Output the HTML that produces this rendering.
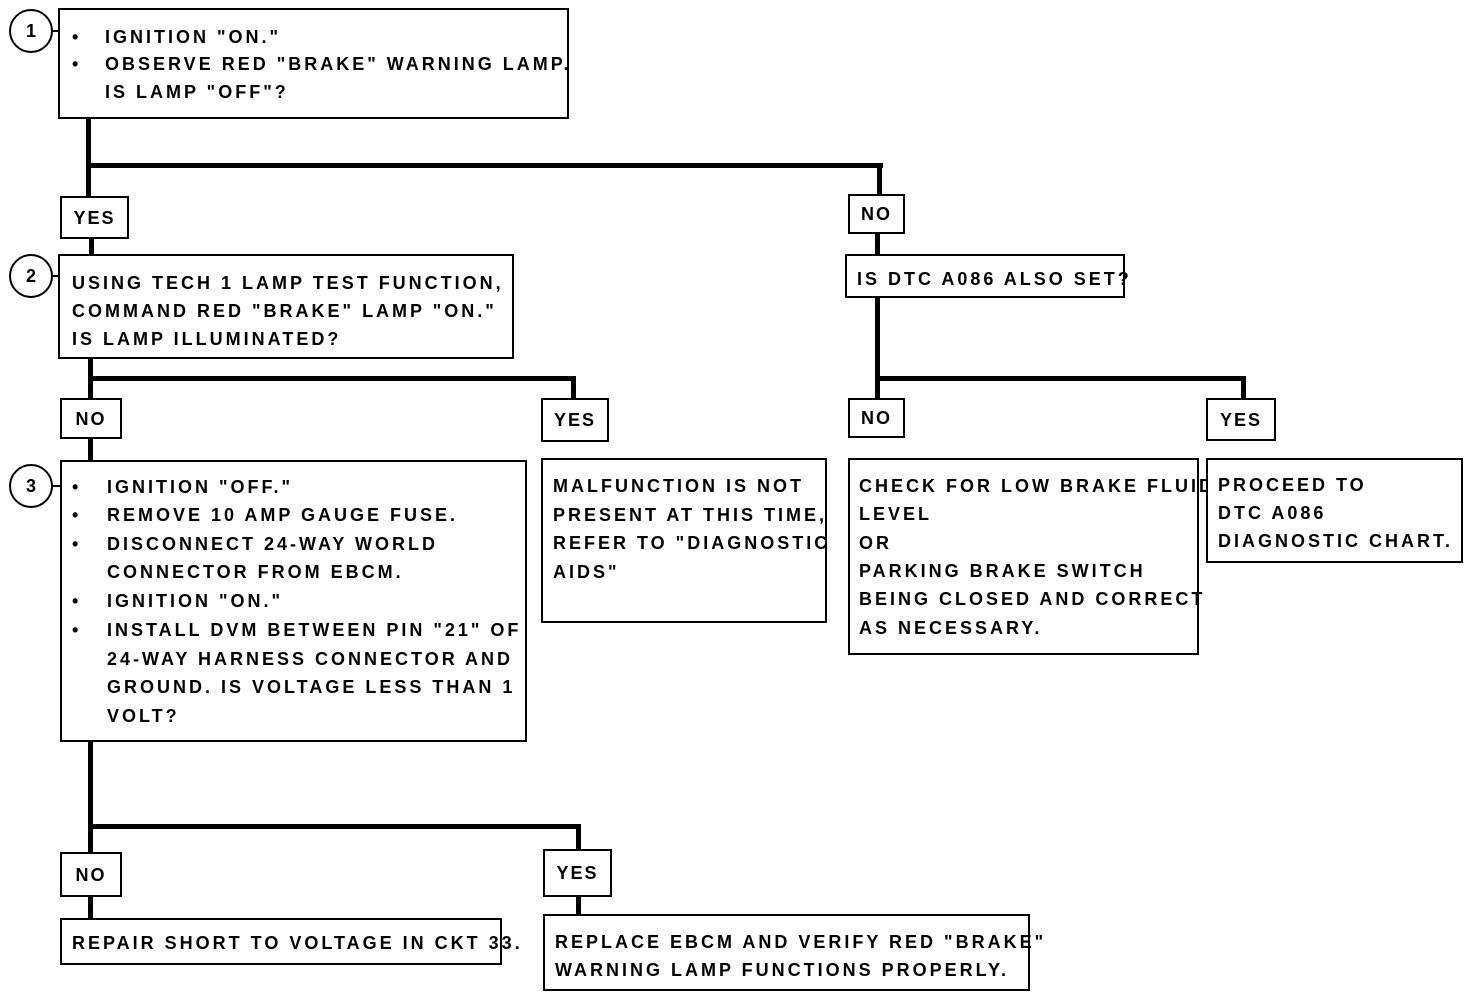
<!DOCTYPE html>
<html><head><meta charset="utf-8"><style>
body{margin:0;width:1472px;height:998px;background:#fff;position:relative;overflow:hidden;font-family:"Liberation Sans",sans-serif;font-weight:bold;font-size:18px;color:#000}
.b{position:absolute;border:2px solid #000;box-sizing:border-box;background:#fff}
.t{position:absolute;white-space:nowrap;line-height:28px;letter-spacing:3px}
.l{position:absolute;background:#000}
.c{position:absolute;width:44px;height:44px;border:2px solid #000;border-radius:50%;box-sizing:border-box;text-align:center;line-height:40px;font-size:18px;background:#fff}
.lb{position:absolute;border:2px solid #000;box-sizing:border-box;background:#fff;text-align:center;font-size:18px;letter-spacing:2px}
</style></head><body>
<div class="l" style="left:86px;top:118px;width:5px;height:80px"></div>
<div class="l" style="left:86px;top:163px;width:797px;height:5px"></div>
<div class="l" style="left:877px;top:163px;width:5px;height:32px"></div>
<div class="l" style="left:89px;top:236px;width:5px;height:20px"></div>
<div class="l" style="left:875px;top:232px;width:5px;height:24px"></div>
<div class="l" style="left:88px;top:356px;width:5px;height:44px"></div>
<div class="l" style="left:88px;top:376px;width:488px;height:5px"></div>
<div class="l" style="left:571px;top:376px;width:5px;height:24px"></div>
<div class="l" style="left:88px;top:436px;width:5px;height:26px"></div>
<div class="l" style="left:875px;top:295px;width:5px;height:105px"></div>
<div class="l" style="left:875px;top:376px;width:371px;height:5px"></div>
<div class="l" style="left:1241px;top:376px;width:5px;height:24px"></div>
<div class="l" style="left:88px;top:739px;width:5px;height:115px"></div>
<div class="l" style="left:88px;top:824px;width:493px;height:5px"></div>
<div class="l" style="left:576px;top:824px;width:5px;height:27px"></div>
<div class="l" style="left:88px;top:895px;width:5px;height:25px"></div>
<div class="l" style="left:576px;top:894px;width:5px;height:22px"></div>

<div class="c" style="left:9px;top:9px">1</div>
<div class="c" style="left:9px;top:254px">2</div>
<div class="c" style="left:9px;top:464px">3</div>
<div class="l" style="left:52px;top:30px;width:8px;height:2px"></div>
<div class="l" style="left:52px;top:275px;width:8px;height:2px"></div>
<div class="l" style="left:52px;top:485px;width:8px;height:2px"></div>

<div class="b" style="left:58px;top:8px;width:511px;height:111px"></div>
<div class="t" style="left:72px;top:23px">•</div><div class="t" style="left:105px;top:23px">IGNITION "ON."</div>
<div class="t" style="left:72px;top:50px">•</div><div class="t" style="left:105px;top:50px">OBSERVE RED "BRAKE" WARNING LAMP.</div>
<div class="t" style="left:105px;top:78px">IS LAMP "OFF"?</div>

<div class="lb" style="left:60px;top:196px;width:69px;height:43px;line-height:40px">YES</div>
<div class="lb" style="left:848px;top:194px;width:57px;height:40px;line-height:37px">NO</div>

<div class="b" style="left:58px;top:254px;width:456px;height:105px"></div>
<div class="t" style="left:72px;top:269px">USING TECH 1 LAMP TEST FUNCTION,</div>
<div class="t" style="left:72px;top:297px">COMMAND RED "BRAKE" LAMP "ON."</div>
<div class="t" style="left:72px;top:325px">IS LAMP ILLUMINATED?</div>

<div class="b" style="left:845px;top:254px;width:280px;height:44px"></div>
<div class="t" style="left:857px;top:265px">IS DTC A086 ALSO SET?</div>

<div class="lb" style="left:60px;top:398px;width:62px;height:41px;line-height:38px">NO</div>
<div class="lb" style="left:541px;top:398px;width:68px;height:44px;line-height:41px">YES</div>
<div class="lb" style="left:848px;top:398px;width:57px;height:40px;line-height:37px">NO</div>
<div class="lb" style="left:1206px;top:398px;width:70px;height:43px;line-height:40px">YES</div>

<div class="b" style="left:60px;top:460px;width:467px;height:282px"></div>
<div class="t" style="left:72px;top:473px">•</div><div class="t" style="left:107px;top:473px">IGNITION "OFF."</div>
<div class="t" style="left:72px;top:501px">•</div><div class="t" style="left:107px;top:501px">REMOVE 10 AMP GAUGE FUSE.</div>
<div class="t" style="left:72px;top:530px">•</div><div class="t" style="left:107px;top:530px">DISCONNECT 24-WAY WORLD</div>
<div class="t" style="left:107px;top:558px">CONNECTOR FROM EBCM.</div>
<div class="t" style="left:72px;top:587px">•</div><div class="t" style="left:107px;top:587px">IGNITION "ON."</div>
<div class="t" style="left:72px;top:616px">•</div><div class="t" style="left:107px;top:616px">INSTALL DVM BETWEEN PIN "21" OF</div>
<div class="t" style="left:107px;top:645px">24-WAY HARNESS CONNECTOR AND</div>
<div class="t" style="left:107px;top:673px">GROUND. IS VOLTAGE LESS THAN 1</div>
<div class="t" style="left:107px;top:702px">VOLT?</div>

<div class="b" style="left:541px;top:458px;width:286px;height:165px"></div>
<div class="t" style="left:553px;top:472px">MALFUNCTION IS NOT</div>
<div class="t" style="left:553px;top:501px">PRESENT AT THIS TIME,</div>
<div class="t" style="left:553px;top:529px">REFER TO "DIAGNOSTIC</div>
<div class="t" style="left:553px;top:558px">AIDS"</div>

<div class="b" style="left:848px;top:458px;width:351px;height:197px"></div>
<div class="t" style="left:859px;top:472px">CHECK FOR LOW BRAKE FLUID</div>
<div class="t" style="left:859px;top:500px">LEVEL</div>
<div class="t" style="left:859px;top:529px">OR</div>
<div class="t" style="left:859px;top:557px">PARKING BRAKE SWITCH</div>
<div class="t" style="left:859px;top:585px">BEING CLOSED AND CORRECT</div>
<div class="t" style="left:859px;top:614px">AS NECESSARY.</div>

<div class="b" style="left:1206px;top:458px;width:257px;height:105px"></div>
<div class="t" style="left:1218px;top:471px">PROCEED TO</div>
<div class="t" style="left:1218px;top:499px">DTC A086</div>
<div class="t" style="left:1218px;top:527px">DIAGNOSTIC CHART.</div>

<div class="lb" style="left:60px;top:852px;width:62px;height:45px;line-height:42px">NO</div>
<div class="lb" style="left:543px;top:849px;width:69px;height:48px;line-height:45px">YES</div>

<div class="b" style="left:60px;top:918px;width:442px;height:47px"></div>
<div class="t" style="left:72px;top:929px">REPAIR SHORT TO VOLTAGE IN CKT 33.</div>

<div class="b" style="left:543px;top:914px;width:487px;height:77px"></div>
<div class="t" style="left:555px;top:928px">REPLACE EBCM AND VERIFY RED "BRAKE"</div>
<div class="t" style="left:555px;top:956px">WARNING LAMP FUNCTIONS PROPERLY.</div>
</body></html>
